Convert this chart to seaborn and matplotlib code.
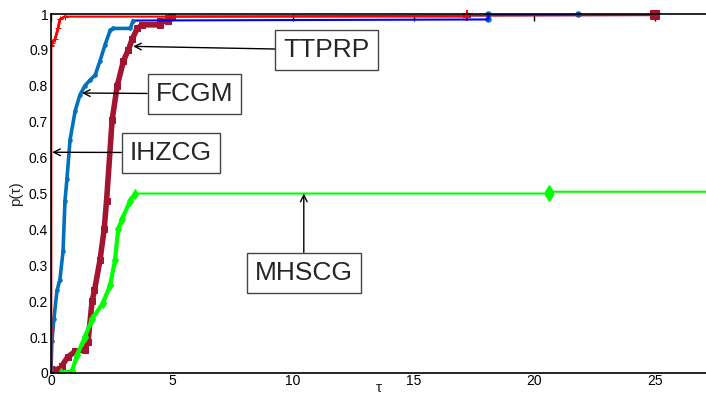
import numpy as np
import pandas as pd
import seaborn as sns
import matplotlib.pyplot as plt

# ---- data ----
ihzcg_tau = [0.0, 0.0, 0.0, 0.02, 0.05, 0.17, 0.29, 0.37, 0.58, 17.2, 17.2]
ihzcg_p   = [0.0, 0.12, 0.91, 0.915, 0.92, 0.93, 0.96, 0.985, 0.993, 0.993, 1.0]

fcgm_tau = [0.0, 0.04, 0.12, 0.25, 0.37, 0.5, 0.58, 0.66, 0.79, 1.0, 1.2, 1.4, 1.6,
            1.83, 2.03, 2.24, 2.45, 2.57, 3.28, 3.4, 18.1, 18.1, 21.8]
fcgm_p   = [0.01, 0.09, 0.15, 0.23, 0.26, 0.34, 0.48, 0.54, 0.65, 0.73, 0.775, 0.80,
            0.815, 0.83, 0.87, 0.915, 0.955, 0.96, 0.96, 0.982, 0.985, 1.0, 1.0]

ttprp_tau = [0.0, 0.37, 0.45, 0.7, 1.0, 1.4, 1.53, 1.7, 1.8, 2.03, 2.2, 2.3, 2.53,
             2.74, 3.0, 3.2, 3.36, 3.57, 3.78, 4.5, 4.5, 4.85, 4.85, 5.0, 25.0]
ttprp_p   = [0.01, 0.01, 0.02, 0.045, 0.06, 0.065, 0.085, 0.20, 0.23, 0.315, 0.40,
             0.48, 0.705, 0.80, 0.87, 0.90, 0.93, 0.96, 0.97, 0.97, 0.98, 0.98,
             0.99, 0.993, 0.997]

mhscg_tau = [0.4, 0.87, 1.08, 1.4, 1.7, 2.15, 2.45, 2.65, 2.78, 2.95, 3.28, 3.48,
             20.6, 20.6, 27.1]
mhscg_p   = [0.0, 0.005, 0.05, 0.10, 0.15, 0.195, 0.245, 0.315, 0.40, 0.43, 0.48,
             0.50, 0.50, 0.505, 0.505]

x_ticks = [0, 5, 10, 15, 20, 25]
y_ticks = [0, 0.1, 0.2, 0.3, 0.4, 0.5, 0.6, 0.7, 0.8, 0.9, 1.0]
y_tick_labels = ["0", "0.1", "0.2", "0.3", "0.4", "0.5", "0.6", "0.7", "0.8", "0.9", "1"]

sns.set_style("white")
plt.rcParams['font.family'] = ['Liberation Sans', 'DejaVu Sans']

fig = plt.figure(figsize=(7.06, 3.94), dpi=100)
ax = fig.add_axes([0.0722, 0.0533, 1 - 0.0722, 0.911])

series = [
    # tau, p, flat colour, rise colour, rise lw, marker, ms, cut
    (ttprp_tau, ttprp_p, "#A2142F", "#A2142F", 4.0, "s", 4, 5.0),
    (mhscg_tau, mhscg_p, "#00FF00", "#00FF00", 3.0, "d", 5, 3.5),
    (fcgm_tau, fcgm_p, "#0000FF", "#0072BD", 2.6, ".", 5, 3.4),
    (ihzcg_tau, ihzcg_p, "#FF0000", "#FF0000", 2.0, "+", 5, 0.6),
]
for tau, p, cflat, crise, lw, mk, ms, cut in series:
    df = pd.DataFrame({"tau": tau, "p": p})
    sns.lineplot(data=df, x="tau", y="p", ax=ax, color=cflat, lw=1.5,
                 sort=False, estimator=None)
    rise = df[df["tau"] <= cut]
    sns.lineplot(data=rise, x="tau", y="p", ax=ax, color=crise, lw=lw,
                 marker=mk, ms=ms, mec=crise, mfc=crise, sort=False, estimator=None)
    ends = df[(df["tau"] > cut) & (df["tau"] < 27)]
    sns.scatterplot(data=ends, x="tau", y="p", ax=ax, color=crise, marker=mk,
                    s=ms * 8, edgecolor=crise, linewidth=1.5, clip_on=False)

ax.set_xlim(0, 27.1)
ax.set_ylim(0, 1)
ax.set_xticks(x_ticks)
ax.set_xticklabels([str(t) for t in x_ticks])
ax.set_yticks(y_ticks)
ax.set_yticklabels(y_tick_labels)
ax.tick_params(axis="both", direction="in", length=5, width=1, labelsize=10,
               pad=2, top=True, colors="black")
ax.tick_params(axis="x", pad=1)
ax.set_xlabel("τ", fontsize=11)
ax.xaxis.set_label_coords(0.5, -0.042)
ax.xaxis.label.set_va("center")
ax.set_ylabel("p(τ)", fontsize=11, labelpad=4)
for s in ["left", "bottom", "top"]:
    ax.spines[s].set_color("black")
    ax.spines[s].set_linewidth(1.2)
ax.spines["right"].set_visible(False)

box = dict(boxstyle="square,pad=0.3", fc="white", ec="#444444", lw=1)
arrow = dict(arrowstyle="->", color="black", lw=1, shrinkA=0, shrinkB=0,
             mutation_scale=12)
fs = 19
ax.annotate("TTPRP", xy=(3.4, 0.91), xytext=(11.4, 0.90), fontsize=fs,
            ha="center", va="center", bbox=box, arrowprops=arrow)
ax.annotate("FCGM", xy=(1.28, 0.78), xytext=(5.93, 0.778), fontsize=fs,
            ha="center", va="center", bbox=box, arrowprops=arrow)
ax.annotate("IHZCG", xy=(0.05, 0.615), xytext=(4.96, 0.614), fontsize=fs,
            ha="center", va="center", bbox=box, arrowprops=arrow)
ax.annotate("MHSCG", xy=(10.46, 0.50), xytext=(10.46, 0.279), fontsize=fs,
            ha="center", va="center", bbox=box, arrowprops=arrow)

fig.savefig("out.png", dpi=100)
